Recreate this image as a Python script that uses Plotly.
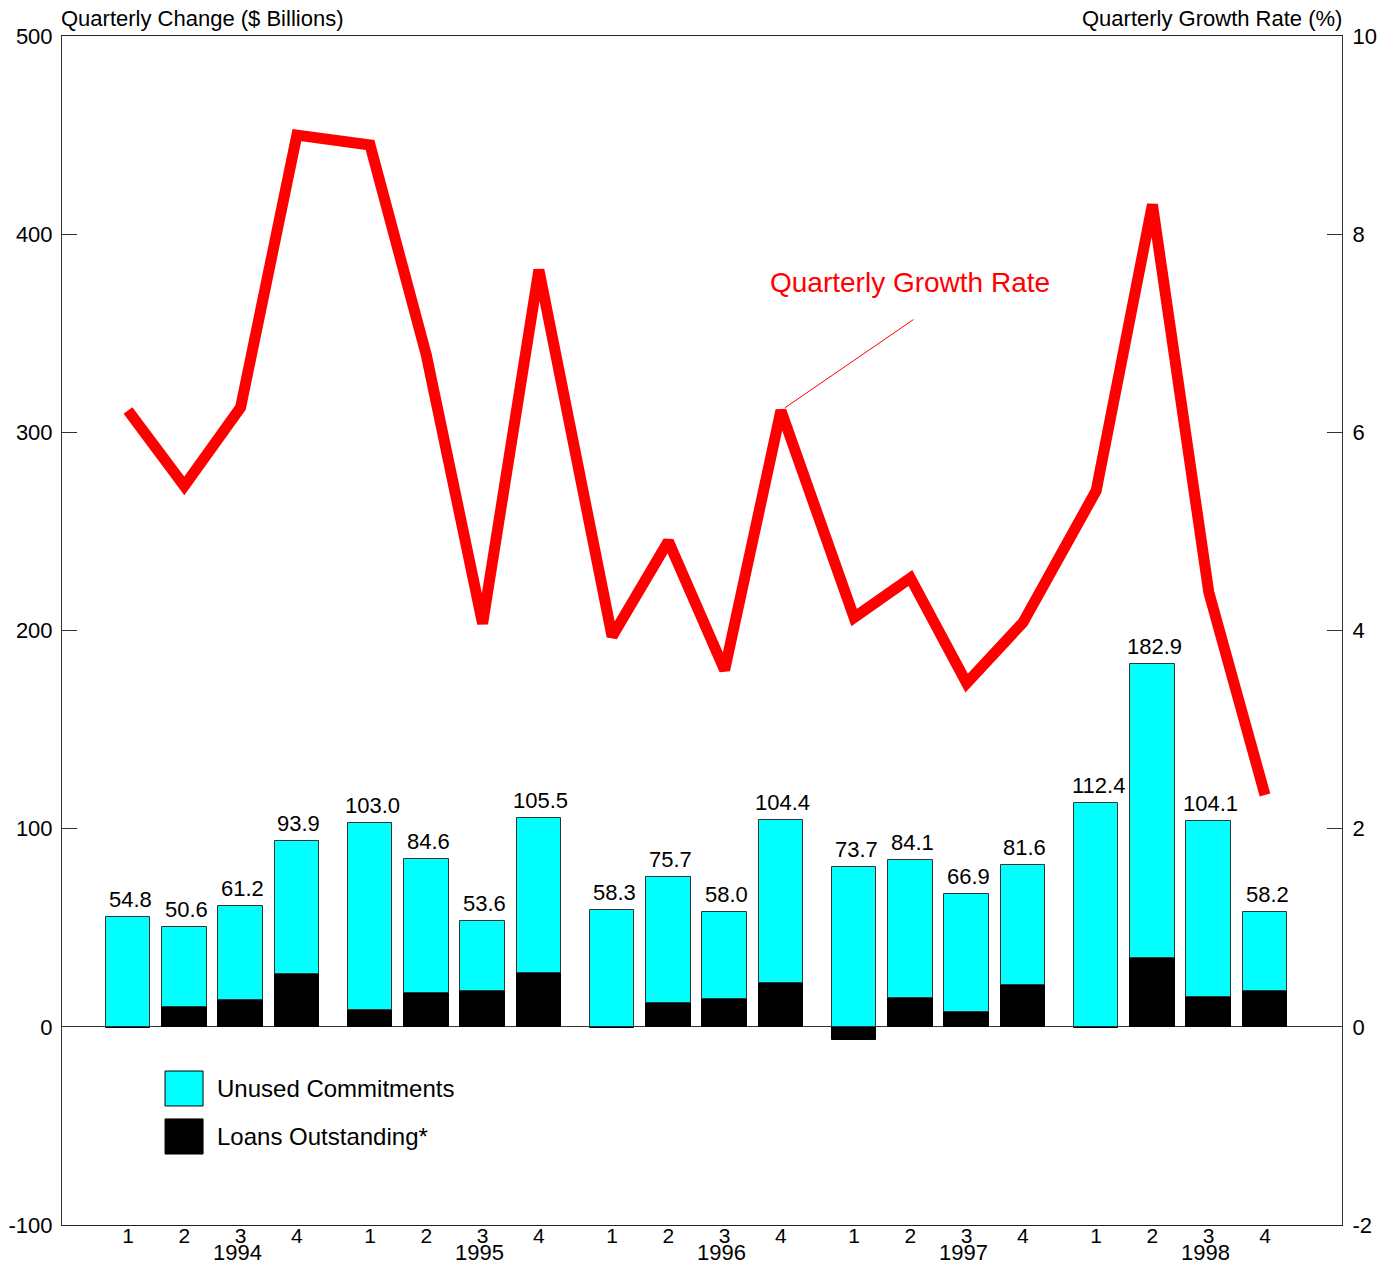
import plotly.graph_objects as go

# ---------------- data ----------------
years = ["1994", "1995", "1996", "1997", "1998"]
quarters = ["1", "2", "3", "4"]

# total quarterly change ($ billions) shown above each bar
total_change = [54.8, 50.6, 61.2, 93.9,
                103.0, 84.6, 53.6, 105.5,
                58.3, 75.7, 58.0, 104.4,
                73.7, 84.1, 66.9, 81.6,
                112.4, 182.9, 104.1, 58.2]

# loans outstanding component ($ billions)
loans_outstanding = [-0.8, 10.2, 13.4, 26.7,
                     8.4, 17.3, 18.2, 27.4,
                     -0.7, 11.8, 14.3, 21.9,
                     -6.8, 14.8, 7.4, 21.3,
                     -0.8, 34.7, 15.3, 18.2]

# unused commitments component ($ billions)
unused_commitments = [55.6, 40.4, 47.8, 67.2,
                      94.6, 67.3, 35.4, 78.1,
                      59.0, 63.9, 43.7, 82.5,
                      80.5, 69.3, 59.5, 60.3,
                      113.2, 148.2, 88.8, 40.0]

# quarterly growth rate (%)
growth_rate = [6.22, 5.46, 6.25, 9.00,
               8.90, 6.78, 4.07, 7.64,
               3.94, 4.90, 3.60, 6.22,
               4.13, 4.53, 3.47, 4.08,
               5.41, 8.30, 4.39, 2.34]

# axis tick values / labels
left_ticks = [-100, 0, 100, 200, 300, 400, 500]
left_tick_text = ["-100", "0", "100", "200", "300", "400", "500"]
right_ticks = [-2, 0, 2, 4, 6, 8, 10]
right_tick_text = ["-2", "0", "2", "4", "6", "8", "10"]

# ---------------- layout helpers ----------------
GROUP_STEP = 4.3
xpos = [g * GROUP_STEP + q for g in range(len(years)) for q in range(len(quarters))]
tick_text = [q for _ in years for q in quarters]

FONT = "Arial, Liberation Sans, sans-serif"
CYAN = "#00ffff"
RED = "#ff0000"

fig = go.Figure()

fig.add_trace(go.Bar(
    x=xpos, y=loans_outstanding, name="Loans Outstanding*",
    marker=dict(color="#000000", line=dict(color="#000000", width=1)),
    width=0.79, yaxis="y",
))
fig.add_trace(go.Bar(
    x=xpos, y=unused_commitments, name="Unused Commitments",
    marker=dict(color=CYAN, line=dict(color="#333333", width=1)),
    width=0.79, yaxis="y",
))
fig.add_trace(go.Scatter(
    x=xpos, y=growth_rate, mode="lines", name="Quarterly Growth Rate",
    line=dict(color=RED, width=11), yaxis="y2",
))

annotations = []
# value labels above the stacked bars
for xv, tot, ln, un in zip(xpos, total_change, loans_outstanding, unused_commitments):
    top = un + max(ln, 0)
    annotations.append(dict(
        x=xv, y=top, xref="x", yref="y", text=f"{tot:.1f}",
        showarrow=False, yanchor="bottom", xshift=2, yshift=3,
        font=dict(family=FONT, size=22, color="#000000"),
    ))

# year labels under the quarter ticks
for g, yr in enumerate(years):
    annotations.append(dict(
        x=g * GROUP_STEP + 1.95, y=0, xref="x", yref="paper", text=yr,
        showarrow=False, yanchor="middle", yshift=-27,
        font=dict(family=FONT, size=22, color="#000000"),
    ))

# axis titles
annotations.append(dict(
    x=0, y=1, xref="paper", yref="paper", text="Quarterly Change ($ Billions)",
    showarrow=False, xanchor="left", yanchor="middle", yshift=18, xshift=-3,
    font=dict(family=FONT, size=22, color="#000000"),
))
annotations.append(dict(
    x=1, y=1, xref="paper", yref="paper", text="Quarterly Growth Rate (%)",
    showarrow=False, xanchor="right", yanchor="middle", yshift=18, xshift=2,
    font=dict(family=FONT, size=22, color="#000000"),
))

# callout for the growth-rate line
callout_idx = 11
annotations.append(dict(
    x=xpos[callout_idx], y=growth_rate[callout_idx], xref="x", yref="y2",
    text="", showarrow=True, arrowhead=0, arrowwidth=1, arrowcolor=RED,
    ax=134, ay=-92, standoff=5,
))
annotations.append(dict(
    x=0.6625, y=0.7923, xref="paper", yref="paper", text="Quarterly Growth Rate",
    showarrow=False, xanchor="center", yanchor="middle",
    font=dict(family=FONT, size=28, color=RED),
))

# legend (custom)
legend_items = [("Unused Commitments", CYAN, 0.1295, 0.1001),
                ("Loans Outstanding*", "#000000", 0.0892, 0.0597)]
shapes = []
for label, col, y1, y0 in legend_items:
    shapes.append(dict(
        type="rect", xref="paper", yref="paper",
        x0=0.0805, x1=0.1102, y0=y0, y1=y1,
        fillcolor=col, line=dict(color="#000000", width=1),
    ))
    annotations.append(dict(
        x=0.1211, y=(y0 + y1) / 2, xref="paper", yref="paper", text=label,
        showarrow=False, xanchor="left", yanchor="middle", xshift=-2,
        font=dict(family=FONT, size=24, color="#000000"),
    ))

fig.update_layout(
    width=1395, height=1266,
    margin=dict(l=62, r=53, t=36, b=41, autoexpand=False),
    paper_bgcolor="white", plot_bgcolor="white",
    barmode="relative", bargap=0,
    showlegend=False,
    font=dict(family=FONT, size=22, color="#000000"),
    xaxis=dict(
        range=[-1.1725, 21.568], tickvals=xpos, ticktext=tick_text,
        ticks="", showgrid=False, zeroline=False, automargin=False,
        ticklabelstandoff=-8,
        showline=True, linecolor="#222222", linewidth=1, mirror=True,
        tickfont=dict(family=FONT, size=21, color="#000000"),
    ),
    yaxis=dict(
        range=[-100, 500], tickvals=left_ticks, ticktext=left_tick_text,
        ticks="inside", ticklen=15, tickcolor="#333333", tickwidth=1,
        showgrid=False, zeroline=True, zerolinecolor="#333333", zerolinewidth=1,
        showline=True, linecolor="#333333", linewidth=1, automargin=False,
        ticklabelstandoff=4,
        tickfont=dict(family=FONT, size=22, color="#000000"),
    ),
    yaxis2=dict(
        range=[-2, 10], tickvals=right_ticks, ticktext=right_tick_text,
        overlaying="y", side="right",
        ticks="inside", ticklen=15, tickcolor="#333333", tickwidth=1,
        showgrid=False, zeroline=False, automargin=False,
        showline=True, linecolor="#333333", linewidth=1,
        ticklabelstandoff=5,
        tickfont=dict(family=FONT, size=22, color="#000000"),
    ),
    annotations=annotations,
    shapes=shapes,
)

fig.write_html("out.html", config={"displayModeBar": False},
               post_script="document.body.style.margin='0';")
